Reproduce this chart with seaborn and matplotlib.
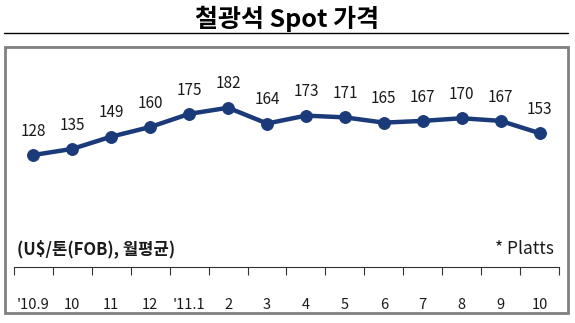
import matplotlib
matplotlib.use("Agg")
import matplotlib.pyplot as plt
import seaborn as sns
import numpy as np
import pandas as pd
from matplotlib.patches import Rectangle
from matplotlib.lines import Line2D

months = ["'10.9", "10", "11", "12", "'11.1", "2", "3", "4", "5", "6", "7", "8", "9", "10"]
prices = [128, 135, 149, 160, 175, 182, 164, 173, 171, 165, 167, 170, 167, 153]
title = "철광석 Spot 가격"
unit_note = "(U$/톤(FOB), 월평균)"
source_note = "* Platts"

sns.set_theme(style="white")
plt.rcParams['font.family'] = ['Noto Sans CJK KR', 'DejaVu Sans']

df = pd.DataFrame({"pos": np.arange(len(months)), "price": prices})

fig = plt.figure(figsize=(5.75, 3.23), dpi=100)
W, H = 575, 323
def fx(px): return px / W
def fy(py): return 1 - py / H

ax = fig.add_axes([fx(14), fy(267), fx(559) - fx(14), fy(50) - fy(267)])
line_color = "#1B3A7A"
sns.lineplot(data=df, x="pos", y="price", ax=ax, color=line_color, linewidth=3.2,
             marker="o", markersize=8.5, markeredgecolor=line_color, markerfacecolor=line_color)

for x, y in zip(df["pos"], df["price"]):
    ax.annotate(str(y), (x, y), xytext=(0, 11), textcoords="offset points",
                ha="center", va="bottom", fontsize=11, color="#1a1a1a")

ax.set_xlim(-0.5, len(months) - 0.5)
ax.set_ylim(0, 248)
ax.set_xlabel("")
ax.set_ylabel("")
ax.set_yticks([])
ax.set_xticks(np.arange(len(months)))
ax.set_xticklabels(months, fontsize=10.5, color="#1a1a1a")
ax.set_xticks(np.arange(-0.5, len(months)), minor=True)
ax.tick_params(axis="x", which="major", length=0, pad=22)
ax.tick_params(axis="x", which="minor", length=6, width=0.8, color="#333333", direction="out", bottom=True)
for s in ["left", "top", "right"]:
    ax.spines[s].set_visible(False)
ax.spines["bottom"].set_color("#333333")
ax.spines["bottom"].set_linewidth(0.8)
ax.patch.set_alpha(0)

# frame and title line
fig.patches.append(Rectangle((fx(5), fy(313)), fx(568) - fx(5), fy(47) - fy(313),
                             transform=fig.transFigure, fill=False, edgecolor="#808080", linewidth=2))
fig.lines.append(Line2D([fx(4), fx(568)], [fy(33), fy(33)], transform=fig.transFigure,
                        color="black", linewidth=1))

fig.text(0.5, fy(19), title, ha="center", va="center", fontsize=18, fontweight="bold", color="black")
fig.text(fx(17), fy(249), unit_note, ha="left", va="center", fontsize=12, fontweight="bold", color="#1a1a1a")
fig.text(fx(554), fy(249), source_note, ha="right", va="center", fontsize=12.5, color="#1a1a1a")

fig.savefig("out.png", dpi=100)
